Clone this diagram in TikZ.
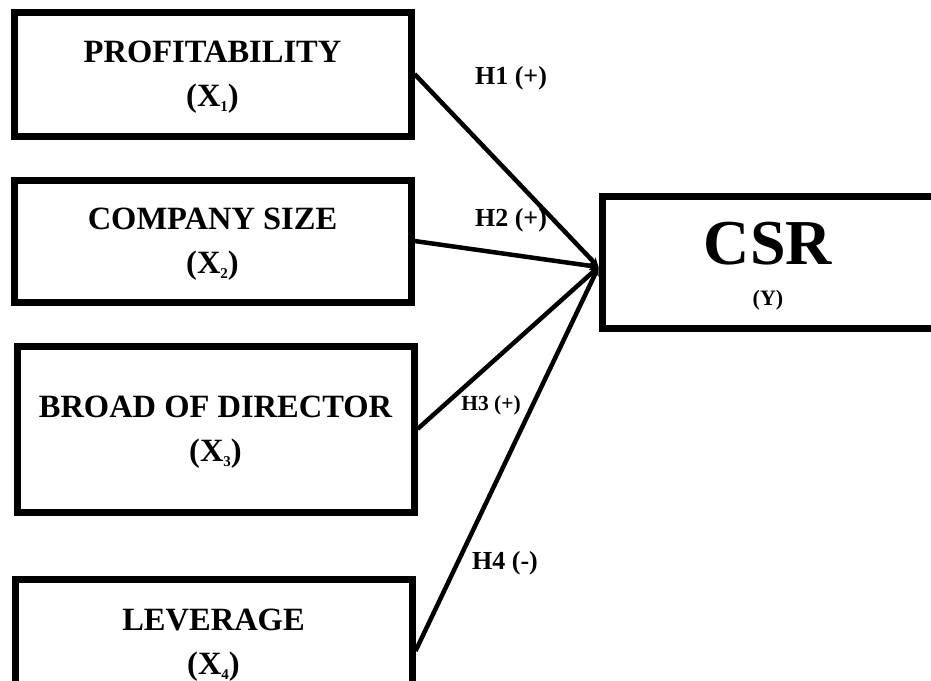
\documentclass[tikz,border=0pt]{standalone}
\usepackage{fontspec}
\setmainfont{Liberation Serif}
\usetikzlibrary{positioning, arrows.meta}
\newcommand{\subidx}[1]{\raisebox{-5pt}[0pt][0pt]{\fontsize{15}{15}\selectfont #1}}

\begin{document}
\begin{tikzpicture}[
        x=1pt, y=-1pt,
        node distance=37pt,
        every node/.style={font=\bfseries},
        varbox/.style={rectangle, minimum width=397pt, text centered, align=center, draw=black, line width=7pt, inner sep=0pt, text height=72pt, font=\bfseries\fontsize{32.5}{44}\selectfont},
        hyp/.style={font=\bfseries\fontsize{26}{26}\selectfont},
        arrow/.style={line width=4.5pt, -{Stealth[length=9pt, width=9pt]}}
    ]
    \useasboundingbox (0,0) rectangle (931,680);
    \clip (0,0) rectangle (931,680);

    % Nodes
    \node (prof) [varbox, minimum height=124pt] at (212.5,74) {PROFITABILITY\\(X\subidx{1})};
    \node (size) [varbox, minimum height=122pt, below=of prof] {COMPANY SIZE\\(X\subidx{2})};
    \node (board) [varbox, minimum height=166pt, below=of size, xshift=3pt] {BROAD OF DIRECTOR\\(X\subidx{3})};
    \node (lev) [varbox, minimum height=126pt, below=60pt of board, xshift=-2pt] {LEVERAGE\\(X\subidx{4})};
    \node (csr) [varbox, minimum width=332pt, minimum height=132pt, text height=91pt, font=\bfseries\fontsize{22}{41}\selectfont] at (768,262)
        {{\fontsize{64}{41}\selectfont CSR}\\(Y)};
    \coordinate (hub) at ([yshift=-5pt]csr.west);

    % Labels
    \node (h1) [hyp] at (511,78) {H1 (+)};
    \node (h2) [hyp] at (511,220) {H2 (+)};
    \node (h3) [hyp, font=\bfseries\fontsize{21.5}{21.5}\selectfont] at (491,405) {H3 (+)};
    \node (h4) [hyp] at (505,563) {H4 (-)};

    % Arrows
    \draw [arrow] (prof.east) -- (hub);
    \draw [arrow] (size.east) -- (hub);
    \draw [arrow] (board.east) -- (hub);
    \draw [arrow] ([yshift=-9pt]lev.east) -- (hub);

\end{tikzpicture}
\end{document}
